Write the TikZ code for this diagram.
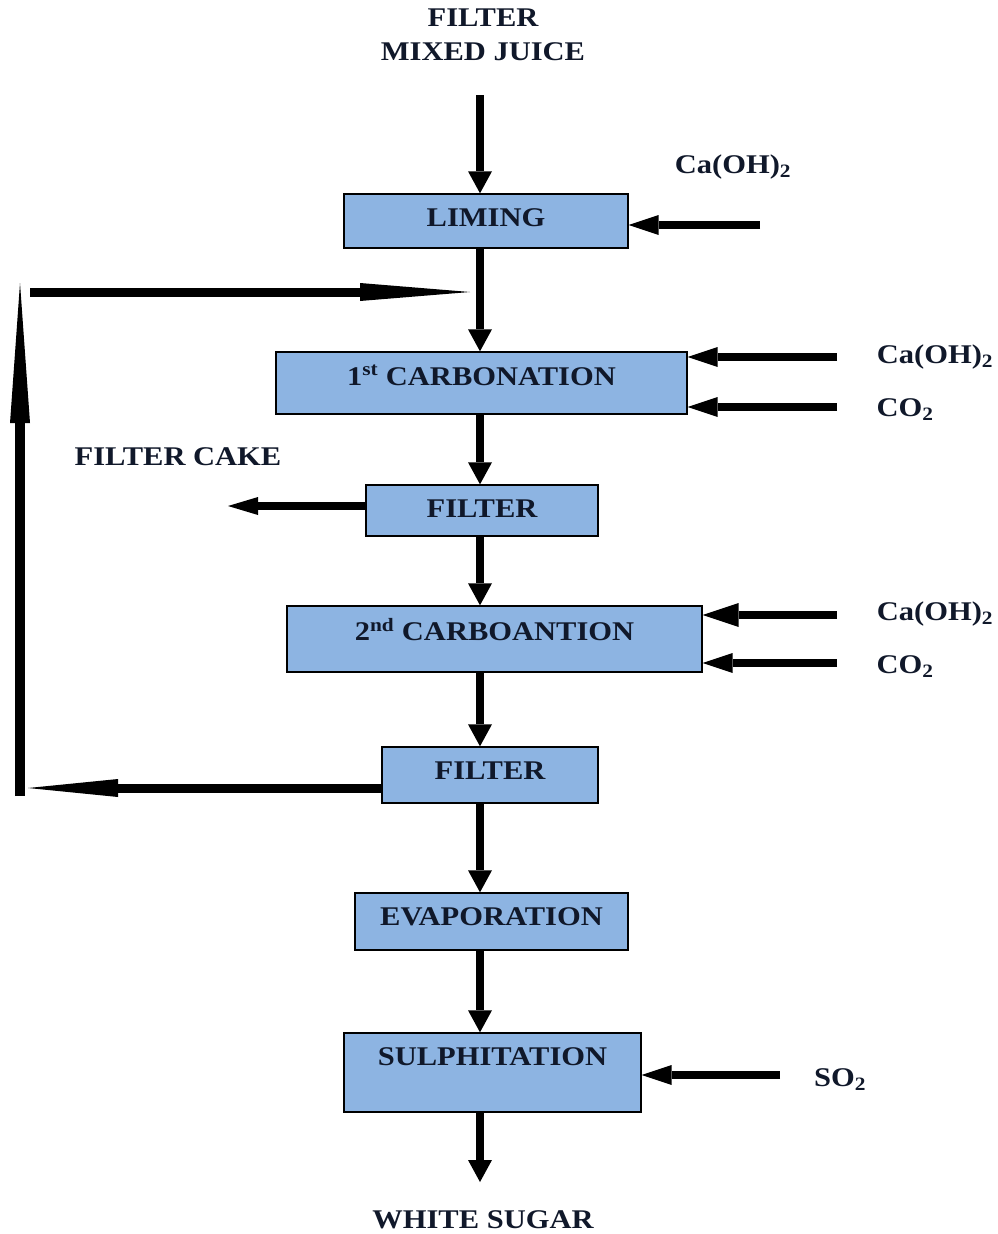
\documentclass[tikz,border=0pt]{standalone}
\usepackage{fontspec}
\setmainfont[FakeStretch=1.13]{Liberation Serif}
\usetikzlibrary{arrows.meta,calc}
\definecolor{boxblue}{HTML}{8DB4E2}
\definecolor{ink}{HTML}{10182A}
\begin{document}
\begin{tikzpicture}[x=1pt,y=-1pt,
  txt/.style={font=\fontsize{27}{30}\selectfont\bfseries, text=ink, inner sep=0pt},
  proc/.style={draw=black, line width=1.4pt, fill=boxblue, inner sep=0pt},
  boxtext/.style={label={[txt, anchor=center, yshift=-24pt]north:#1}},
  flow/.style={line width=8pt, -{Triangle[length=22pt,width=24pt,line width=0pt]}},
  feed/.style={line width=8pt, -{Triangle[length=30pt,width=20pt,line width=0pt]}},
  loopup/.style={line width=10pt, -{Triangle[length=140pt,width=20pt,line width=0pt]}},
  loopright/.style={line width=9pt, -{Triangle[length=110pt,width=18pt,line width=0pt]}},
  loopleft/.style={line width=9pt, -{Triangle[length=90pt,width=18pt,line width=0pt]}}
]
\useasboundingbox (0,0) rectangle (997,1234);
\coordinate (axis) at (480,0);

% titles
\node[txt] (t1) at (483,18) {FILTER};
\node[txt] (t2) at (483,52) {MIXED JUICE};
\node[txt] (ws) at (483,1220) {WHITE SUGAR};

% boxes
\node[proc, minimum width=284pt, minimum height=54pt, boxtext=LIMING] (lim) at (486,221) {};
\node[proc, minimum width=411pt, minimum height=62pt, boxtext={1\textsuperscript{st} CARBONATION}] (c1) at (481.5,383) {};
\node[proc, minimum width=232pt, minimum height=51pt, boxtext=FILTER] (f1) at (482,510.5) {};
\node[proc, minimum width=415pt, minimum height=66pt, boxtext={2\textsuperscript{nd} CARBOANTION}] (c2) at (494.5,639) {};
\node[proc, minimum width=216pt, minimum height=56pt, boxtext=FILTER] (f2) at (490,775) {};
\node[proc, minimum width=273pt, minimum height=57pt, boxtext=EVAPORATION] (ev) at (491.5,921.5) {};
\node[proc, minimum width=297pt, minimum height=79pt, boxtext=SULPHITATION] (su) at (492.5,1072.5) {};

% side labels
\node[txt] (l1) at (733,167) {Ca(OH)\textsubscript{2}};
\node[txt] (l2) at (935,357) {Ca(OH)\textsubscript{2}};
\node[txt] (l3) at (905,410) {CO\textsubscript{2}};
\node[txt] (l4) at (935,614) {Ca(OH)\textsubscript{2}};
\node[txt] (l5) at (905,667) {CO\textsubscript{2}};
\node[txt] (l6) at (840,1080) {SO\textsubscript{2}};
\node[txt] (fc) at (178,457) {FILTER CAKE};

% main flow
\coordinate (top) at (480,95);
\coordinate (bot) at (480,1182);
\draw[flow] (top) -- (axis |- lim.north);
\draw[flow] (axis |- lim.south) -- (axis |- c1.north);
\draw[flow] (axis |- c1.south) -- (axis |- f1.north);
\draw[flow] (axis |- f1.south) -- (axis |- c2.north);
\draw[flow] (axis |- c2.south) -- (axis |- f2.north);
\draw[flow] (axis |- f2.south) -- (axis |- ev.north);
\draw[flow] (axis |- ev.south) -- (axis |- su.north);
\draw[flow] (axis |- su.south) -- (bot);

% feeds
\coordinate (s1) at (760,225);
\coordinate (s2) at (837,357);
\coordinate (s3) at (837,407);
\coordinate (s4) at (837,615);
\coordinate (s5) at (837,663);
\coordinate (s6) at (780,1075);
\draw[feed] (s1) -- (lim.east |- s1);
\draw[feed] (s2) -- (c1.east |- s2);
\draw[feed] (s3) -- (c1.east |- s3);
\draw[feed, -{Triangle[length=36pt,width=24pt,line width=0pt]}] (s4) -- (c2.east |- s4);
\draw[feed] (s5) -- (c2.east |- s5);
\draw[feed] (s6) -- (su.east |- s6);

% filter cake
\coordinate (fce) at (228,506);
\draw[feed, -{Triangle[length=30pt,width=18pt,line width=0pt]}] (f1.west |- fce) -- (fce);

% recycle loop
\coordinate (rb) at (20,796);
\coordinate (rt) at (20,283);
\coordinate (hs) at (30,292);
\coordinate (he) at (470,292);
\coordinate (le) at (28,788);
\draw[loopup] (rb) -- (rt);
\draw[loopright] (hs) -- (he);
\draw[loopleft] (f2.west |- le) -- (le);
\end{tikzpicture}
\end{document}
